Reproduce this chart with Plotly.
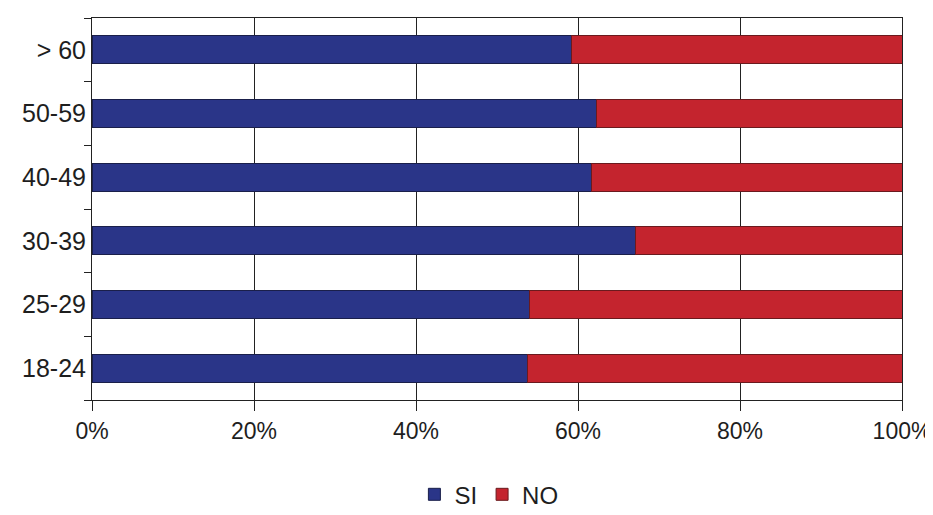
import plotly.graph_objects as go

categories = ["18-24", "25-29", "30-39", "40-49", "50-59", "> 60"]
si_values = [53.8, 54.0, 67.1, 61.7, 62.3, 59.2]
no_values = [round(100 - v, 1) for v in si_values]
x_ticks = [0, 20, 40, 60, 80, 100]
x_tick_labels = ["0%", "20%", "40%", "60%", "80%", "100%"]

fig = go.Figure()
fig.add_trace(go.Bar(
    y=categories, x=si_values, name="SI", orientation="h",
    marker=dict(color="#2a3588", line=dict(color="#1a1f4a", width=1)),
))
fig.add_trace(go.Bar(
    y=categories, x=no_values, name="NO", orientation="h",
    marker=dict(color="#c4242e", line=dict(color="#6a1a1e", width=1)),
))

fig.update_layout(
    barmode="stack",
    bargap=0.56,
    width=925, height=507,
    margin=dict(l=84, r=31, t=10, b=115),
    paper_bgcolor="white", plot_bgcolor="white",
    font=dict(family="Liberation Sans, Arial, sans-serif", size=25, color="#1e1e1e"),
    legend=dict(orientation="h", x=0.49, xanchor="center",
                yref="container", y=0.04, yanchor="middle",
                font=dict(size=24), itemwidth=30, traceorder="normal"),
    showlegend=True,
)
fig.update_xaxes(
    range=[0, 100], tickvals=x_ticks, ticktext=x_tick_labels,
    showgrid=True, gridcolor="#222", gridwidth=1,
    showline=True, linecolor="#222", linewidth=1, mirror=True,
    ticks="outside", ticklen=10, tickcolor="#222", zeroline=False,
    automargin=False, tickfont=dict(size=23), ticklabeloverflow="allow",
)
fig.update_yaxes(
    type="category", categoryorder="array", categoryarray=categories,
    showgrid=False, showline=True, linecolor="#222", linewidth=1, mirror=True,
    ticks="outside", tickson="boundaries", ticklen=7, tickcolor="#222",
    automargin=False, tickfont=dict(size=25), ticklabeloverflow="allow",
)

fig.write_html("out.html")
